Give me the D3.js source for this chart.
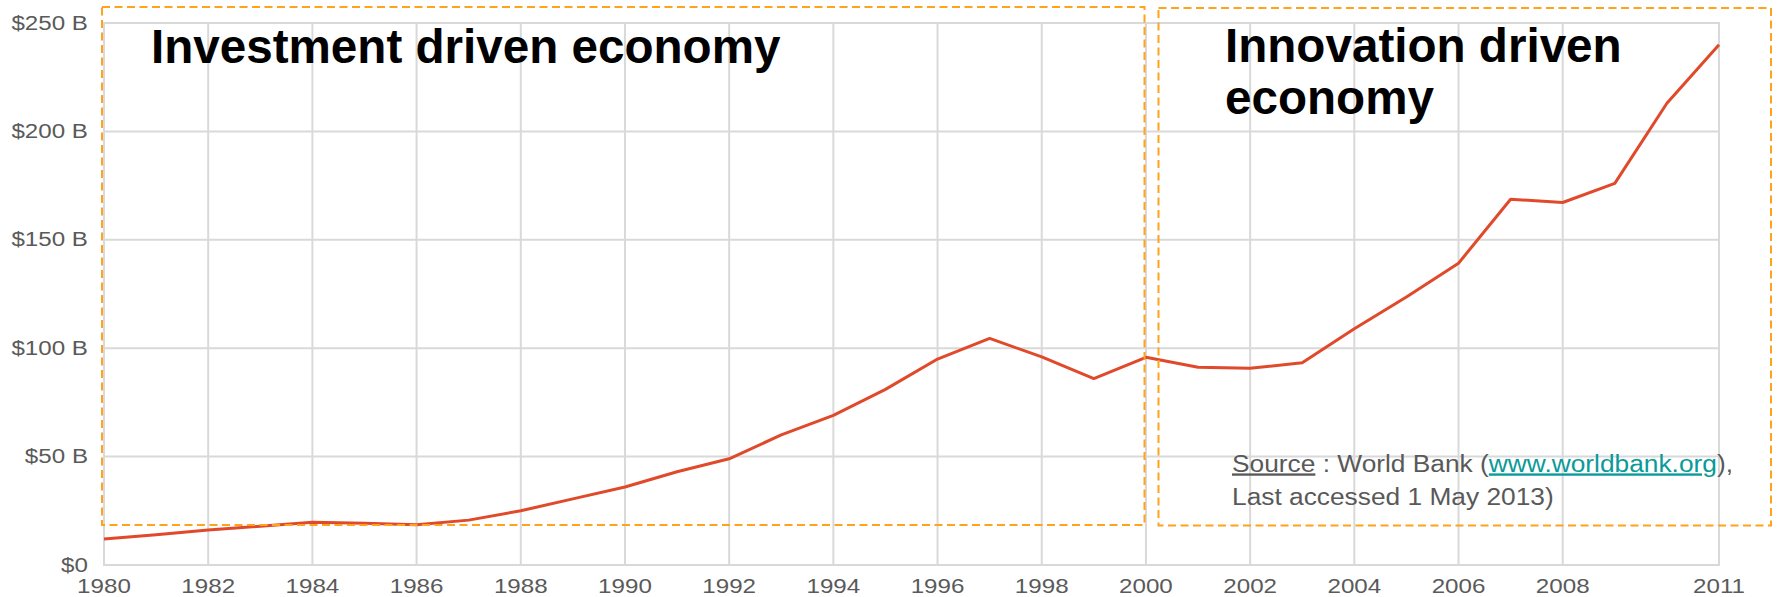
<!DOCTYPE html>
<html>
<head>
<meta charset="utf-8">
<script src="https://cdn.jsdelivr.net/npm/d3@7"></script>
<style>
  html, body { margin: 0; padding: 0; background: #ffffff; }
  svg { display: block; }
  text { font-family: "Liberation Sans", Arial, Helvetica, sans-serif; }
</style>
</head>
<body>
<svg id="chart" width="1777" height="597"></svg>
<script>
// ---- Data ----
const years = [1980, 1981, 1982, 1983, 1984, 1985, 1986, 1987, 1988, 1989,
               1990, 1991, 1992, 1993, 1994, 1995, 1996, 1997, 1998, 1999,
               2000, 2001, 2002, 2003, 2004, 2005, 2006, 2007, 2008, 2009,
               2010, 2011];
const gdpBillions = [12, 14, 16.1, 17.9, 19.7, 19.2, 18.6, 20.7, 25, 30.5,
                     36, 43, 49, 60, 69, 81, 95, 104.5, 96, 86,
                     95.8, 91.2, 90.7, 93.3, 109, 123.6, 139.2, 168.7, 167.2, 176,
                     213, 240];
const xTickValues = [1980, 1982, 1984, 1986, 1988, 1990, 1992, 1994, 1996, 1998,
                     2000, 2002, 2004, 2006, 2008, 2011];
const yTickValues = [0, 50, 100, 150, 200, 250];
const yTickLabels = ["$0", "$50 B", "$100 B", "$150 B", "$200 B", "$250 B"];
const leftTitle = "Investment driven economy";
const rightTitleLines = ["Innovation driven", "economy"];

// ---- Setup ----
const svg = d3.select("#chart");
const x = d3.scaleLinear().domain([1980, 2011]).range([104, 1719]);
const y = d3.scaleLinear().domain([0, 250]).range([565, 23]);
const gridColor = "#d9d9d9";
const labelColor = "#5a5a5a";
const stretch = 1.24;

// Grid lines
svg.append("g").selectAll("line.v").data(xTickValues).join("line")
  .attr("x1", d => x(d)).attr("x2", d => x(d))
  .attr("y1", y(250)).attr("y2", y(0))
  .attr("stroke", gridColor).attr("stroke-width", 2);

svg.append("g").selectAll("line.h").data(yTickValues).join("line")
  .attr("x1", x(1980) - 1).attr("x2", x(2011) + 1)
  .attr("y1", d => y(d)).attr("y2", d => y(d))
  .attr("stroke", gridColor).attr("stroke-width", 2);

// Y tick labels
svg.append("g").selectAll("text").data(yTickValues).join("text")
  .attr("transform", d => `translate(88,${y(d) + 6.5}) scale(${stretch},1)`)
  .attr("text-anchor", "end")
  .attr("font-size", 19.5)
  .attr("fill", labelColor)
  .text((d, i) => yTickLabels[i]);

// X tick labels
svg.append("g").selectAll("text").data(xTickValues).join("text")
  .attr("transform", d => `translate(${x(d)},593) scale(${stretch},1)`)
  .attr("text-anchor", "middle")
  .attr("font-size", 19.5)
  .attr("fill", labelColor)
  .text(d => d);

// Line
const line = d3.line().x((d, i) => x(years[i])).y(d => y(d));
svg.append("path")
  .datum(gdpBillions)
  .attr("d", line)
  .attr("fill", "none")
  .attr("stroke", "#e0492a")
  .attr("stroke-width", 3)
  .attr("stroke-linejoin", "round");

// Dashed boxes
const dash = "8,4.5";
const boxColor = "#ffa21c";
svg.append("rect")
  .attr("x", 102).attr("y", 7).attr("width", 1144.5 - 102).attr("height", 525 - 7)
  .attr("fill", "none").attr("stroke", boxColor).attr("stroke-width", 2)
  .attr("stroke-dasharray", dash);
svg.append("rect")
  .attr("x", 1158.5).attr("y", 8).attr("width", 1771 - 1158.5).attr("height", 525.5 - 8)
  .attr("fill", "none").attr("stroke", boxColor).attr("stroke-width", 2)
  .attr("stroke-dasharray", dash);

// Titles
svg.append("text")
  .attr("x", 151).attr("y", 62.5)
  .attr("font-size", 47.6).attr("font-weight", "bold").attr("fill", "#000")
  .text(leftTitle);

svg.append("g").selectAll("text").data(rightTitleLines).join("text")
  .attr("x", 1225).attr("y", (d, i) => 62 + i * 51.5)
  .attr("font-size", 47.6).attr("font-weight", "bold").attr("fill", "#000")
  .text(d => d);

// Source note
const srcColor = "#595959";
const src1 = svg.append("text")
  .attr("transform", `translate(1232,471.5) scale(1.12,1)`)
  .attr("font-size", 23.5).attr("fill", srcColor);
src1.append("tspan").text("Source").style("text-decoration", "underline");
src1.append("tspan").text(" : World Bank (");
src1.append("tspan").text("www.worldbank.org").attr("fill", "#0a9a9a").style("text-decoration", "underline");
src1.append("tspan").text("),");

svg.append("text")
  .attr("transform", `translate(1232,505) scale(1.12,1)`)
  .attr("font-size", 23.5).attr("fill", srcColor)
  .text("Last accessed 1 May 2013)");
</script>
</body>
</html>
